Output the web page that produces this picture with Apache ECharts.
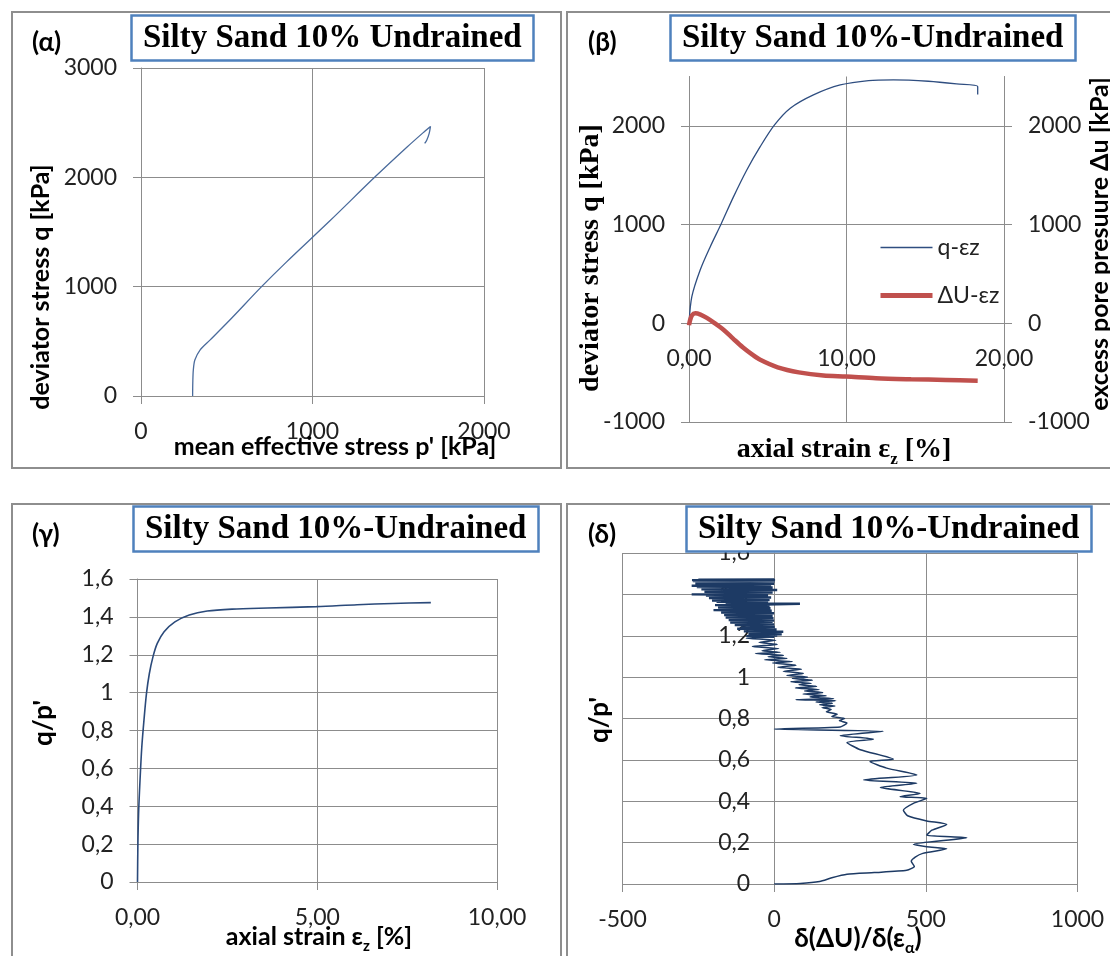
<!DOCTYPE html>
<html>
<head>
<meta charset="utf-8">
<script src="https://cdn.jsdelivr.net/npm/echarts@6/dist/echarts.min.js"></script>
<style>
html, body { margin: 0; padding: 0; background: #fff; }
#chart { width: 1110px; height: 956px; }
</style>
</head>
<body>
<div id="chart"></div>
<script>
// (α) deviator stress vs mean effective stress
var alphaP = [301, 302, 305, 314, 344, 402, 518, 703, 849, 1100, 1362, 1550, 1650, 1688, 1680, 1666, 1654]
var alphaQ = [0, 120, 237, 329, 420, 511, 695, 1000, 1227, 1600, 2000, 2275, 2415, 2466, 2400, 2340, 2310]

// (β) q and ΔU vs axial strain
var betaStrainQ = [0, 0.18, 0.71, 1.35, 2.04, 2.83, 3.67, 4.52, 5.43, 6.43, 7.9, 9.6, 11.4, 12.98, 15.2, 16.99, 18.33, 18.33]
var betaQ = [0, 270, 540, 776, 1006, 1283, 1553, 1789, 2009, 2178, 2313, 2414, 2459, 2466, 2452, 2425, 2398, 2317]
var betaStrainU = [0, 0.05, 0.18, 0.4, 0.73, 1.13, 1.6, 2.19, 2.8, 3.41, 4.0, 4.52, 5.63, 6.97, 8.53, 9.98, 11.87, 14.1, 16.3, 18.33]
var betaU = [-20, 20, 78, 101, 88, 55, 5, -65, -155, -243, -315, -370, -446, -497, -530, -540, -557, -567, -574, -581]

// (γ) stress ratio vs axial strain
var gammaStrain = [0, 0.01, 0.03, 0.07, 0.12, 0.18, 0.25, 0.33, 0.43, 0.55, 0.74, 1.04, 1.44, 1.94, 2.63, 3.62, 4.98, 6.11, 7.1, 8.16]
var gammaRatio = [0, 0.185, 0.361, 0.537, 0.714, 0.855, 0.996, 1.101, 1.189, 1.26, 1.322, 1.374, 1.41, 1.431, 1.441, 1.447, 1.454, 1.464, 1.471, 1.475]

// (δ) stress ratio vs pore pressure rate, lower part
var deltaRateLow = [
  0, 86, 150, 190, 240, 330, 437, 462, 452, 465, 490, 569, 503, 459, 635, 503, 520, 569, 503, 440,
  426, 459, 503, 415, 481, 350, 470, 295, 470, 371, 316, 393, 284, 240, 327, 218, 360, 0, 218, 240,
  215, 232, 190, 208, 172, 188, 158, 200, 150, 192, 138, 203, 72, 196, 118, 172, 95, 160, 100, 148,
  70, 140, 82, 122, 55, 126, 60, 110, 42, 96, 30, 90, 12, 72, -5, 60, -32, 42, -20, 30,
  -62, 20, -40, 15, -72, 10, -50, 5, -92, 0
]
var deltaRatioLow = [
  0, 0.003, 0.012, 0.03, 0.047, 0.055, 0.066, 0.085, 0.11, 0.13, 0.148, 0.17, 0.18, 0.192, 0.224, 0.236, 0.26, 0.288, 0.305, 0.33,
  0.357, 0.39, 0.414, 0.422, 0.438, 0.467, 0.487, 0.503, 0.527, 0.56, 0.592, 0.603, 0.649, 0.684, 0.70, 0.717, 0.738, 0.749, 0.759, 0.778,
  0.790, 0.800, 0.810, 0.820, 0.833, 0.843, 0.853, 0.860, 0.867, 0.874, 0.880, 0.886, 0.891, 0.896, 0.904, 0.910, 0.918, 0.925, 0.933, 0.940,
  0.948, 0.955, 0.963, 0.970, 0.978, 0.985, 0.993, 1.000, 1.008, 1.018, 1.028, 1.038, 1.048, 1.058, 1.068, 1.075, 1.084, 1.090, 1.098, 1.105,
  1.114, 1.120, 1.128, 1.138, 1.148, 1.158, 1.168, 1.178, 1.188, 1.195
]
// (δ) dense upper part near failure
var deltaRateHigh = [
  0, -92, 10, -70, 25, -85, 5, -60, 30, -100, 0, -80, 8, -122, -5, -95, 2, -110, -10, -130,
  0, -100, -15, -145, -5, -120, 0, -150, -20, -135, -2, -160, -25, -140, -5, -165, -20, -150, 0, -175,
  -30, -160, -8, -200, -35, -170, -12, -185, -40, -175, -15, -195, -30, 85, -160, -20, -190, -35, -205, -15,
  -180, -40, -215, -10, -190, -30, -225, -20, -272, -45, -200, -5, -230, -30, -205, 10, -240, -25, -215, -5,
  -255, -30, -272, -10, -235, 0, -260, -15, -245, 2, -268, 0, -271, 3, -250, 0
]
var deltaRatioHigh = [
  1.195, 1.198, 1.201, 1.204, 1.207, 1.210, 1.213, 1.216, 1.219, 1.222, 1.225, 1.228, 1.231, 1.234, 1.237, 1.240, 1.243, 1.246, 1.249, 1.252,
  1.255, 1.258, 1.261, 1.264, 1.267, 1.270, 1.273, 1.276, 1.279, 1.282, 1.285, 1.288, 1.291, 1.294, 1.297, 1.300, 1.303, 1.306, 1.309, 1.312,
  1.315, 1.318, 1.321, 1.324, 1.327, 1.330, 1.333, 1.336, 1.339, 1.342, 1.345, 1.348, 1.351, 1.355, 1.358, 1.361, 1.364, 1.367, 1.370, 1.373,
  1.376, 1.379, 1.382, 1.385, 1.388, 1.391, 1.394, 1.397, 1.400, 1.403, 1.406, 1.409, 1.412, 1.415, 1.418, 1.421, 1.424, 1.427, 1.430, 1.433,
  1.436, 1.439, 1.442, 1.445, 1.448, 1.451, 1.454, 1.457, 1.460, 1.463, 1.465, 1.467, 1.469, 1.470, 1.471, 1.472
]

var titleText1 = 'Silty Sand 10% Undrained'
var titleText2 = 'Silty Sand 10%-Undrained'

var gray = '#8c8c8c'
var labelFont = { fontFamily: 'Lato', fontSize: 23, color: '#222' }

function zip(xs, ys) {
  var out = []
  for (var i = 0; i < xs.length; i++) out.push([xs[i], ys[i]])
  return out
}

function plain(v) { return String(v) }
function comma2(v) { return v.toFixed(2).replace('.', ',') }
function comma1(v) { return String(Math.round(v * 10) / 10).replace('.', ',') }

function axis(o) {
  var a = {
    type: 'value',
    axisLine: { show: true, onZero: false, lineStyle: { color: gray, width: 1 } },
    axisTick: { show: true, length: 8, lineStyle: { color: gray } },
    splitLine: { show: true, lineStyle: { color: gray, width: 1 } },
    axisLabel: Object.assign({ margin: 24, formatter: plain }, labelFont)
  }
  for (var k in o) {
    if (k === 'axisLabel' || k === 'axisLine' || k === 'splitLine') a[k] = Object.assign({}, a[k], o[k])
    else a[k] = o[k]
  }
  return a
}

function boxTitle(text, left, top) {
  return {
    text: text, left: left, top: top, padding: [5, 12],
    borderColor: '#4f81bd', borderWidth: 2.5, backgroundColor: '#fff',
    textStyle: { fontFamily: 'Liberation Serif', fontWeight: 'bold', fontSize: 33, lineHeight: 36, color: '#000' }
  }
}

function panelLabel(text, left, top) {
  return {
    text: text, left: left, top: top, padding: 0,
    textStyle: { fontFamily: 'Lato', fontWeight: 'bold', fontSize: 26, lineHeight: 26, color: '#000' }
  }
}

function axisName(text, x, y, rotate, font, rich) {
  var st = { text: text, font: font, fill: '#000', align: 'center', verticalAlign: 'middle' }
  if (rich) st.rich = rich
  return { type: 'text', x: x, y: y, rotation: rotate ? Math.PI / 2 : 0, z: 10, style: st }
}

function subRich(family, size) {
  return {
    t: { fontFamily: family, fontWeight: 'bold', fontSize: size, lineHeight: size + 8, verticalAlign: 'middle' },
    s: { fontFamily: family, fontWeight: 'bold', fontSize: Math.round(size * 0.6), lineHeight: 12, verticalAlign: 'bottom' }
  }
}

function panelRect(x, y, w, h) {
  return { type: 'rect', shape: { x: x, y: y, width: w, height: h }, style: { fill: null, stroke: '#8e8e8e', lineWidth: 2 }, z: 0 }
}

var chart = echarts.init(document.getElementById('chart'))

var option = {
  animation: false,
  backgroundColor: '#fff',
  title: [
    boxTitle(titleText1, 131, 15),
    boxTitle(titleText2, 670, 15),
    boxTitle(titleText2, 133, 506),
    boxTitle(titleText2, 686, 506),
    panelLabel('(α)', 32, 30),
    panelLabel('(β)', 588, 30),
    panelLabel('(γ)', 32, 522),
    panelLabel('(δ)', 588, 522)
  ],
  legend: {
    orient: 'vertical', left: 873, top: 231, itemWidth: 52, itemHeight: 14, itemGap: 25,
    itemStyle: { opacity: 0 },
    textStyle: { fontFamily: 'Lato', fontSize: 23, lineHeight: 22, color: '#222' },
    data: [
      { name: 'q-εz', lineStyle: { width: 1.5 } },
      { name: 'ΔU-εz', lineStyle: { width: 5 } }
    ]
  },
  grid: [
    { left: 141, top: 68, width: 343, height: 328 },
    { left: 689, top: 76.5, width: 315, height: 345.5 },
    { left: 137.5, top: 579, width: 359.5, height: 303 },
    { left: 622.5, top: 553, width: 455, height: 331 }
  ],
  xAxis: [
    axis({ gridIndex: 0, min: 0, max: 2000, interval: 1000 }),
    // axis sits on the zero line of the stress axis
    axis({ gridIndex: 1, min: 0, max: 20, interval: 10, offset: -98.71, axisLabel: { formatter: comma2 } }),
    axis({ gridIndex: 2, min: 0, max: 10, interval: 5, axisLabel: { formatter: comma2 } }),
    axis({ gridIndex: 3, min: -500, max: 1000, interval: 500 })
  ],
  yAxis: [
    axis({ gridIndex: 0, min: 0, max: 3000, interval: 1000 }),
    axis({ gridIndex: 1, min: -1000, max: 2500, interval: 1000, position: 'left',
      axisLabel: { showMaxLabel: false }, splitLine: { showMaxLine: false } }),
    axis({ gridIndex: 1, min: -1000, max: 2500, interval: 1000, position: 'right',
      axisLabel: { showMaxLabel: false }, splitLine: { show: false } }),
    axis({ gridIndex: 2, min: 0, max: 1.6, interval: 0.2, axisLabel: { formatter: comma1 } }),
    // vertical axis crosses at x = 0
    axis({ gridIndex: 3, min: 0, max: 1.6, interval: 0.2, offset: -151.67, axisLabel: { formatter: comma1 } })
  ],
  series: [
    {
      name: 'alpha', type: 'line', xAxisIndex: 0, yAxisIndex: 0, symbol: 'none', smooth: 0.3,
      lineStyle: { color: '#4a6b9c', width: 1.3 }, data: zip(alphaP, alphaQ)
    },
    {
      name: 'q-εz', type: 'line', xAxisIndex: 1, yAxisIndex: 1, symbol: 'none', smooth: 0.3,
      itemStyle: { color: '#2f4e80' }, lineStyle: { color: '#2f4e80', width: 1.3 }, data: zip(betaStrainQ, betaQ)
    },
    {
      name: 'ΔU-εz', type: 'line', xAxisIndex: 1, yAxisIndex: 2, symbol: 'none', smooth: 0.3,
      itemStyle: { color: '#c0504d' }, lineStyle: { color: '#c0504d', width: 4.5 }, data: zip(betaStrainU, betaU)
    },
    {
      name: 'gamma', type: 'line', xAxisIndex: 2, yAxisIndex: 3, symbol: 'none', smooth: 0.3,
      lineStyle: { color: '#2b4a7a', width: 1.6 }, data: zip(gammaStrain, gammaRatio)
    },
    {
      name: 'delta', type: 'line', xAxisIndex: 3, yAxisIndex: 4, symbol: 'none', smooth: 0.2,
      lineStyle: { color: '#1d3a64', width: 1.5 }, data: zip(deltaRateLow, deltaRatioLow)
    },
    {
      name: 'delta-dense', type: 'line', xAxisIndex: 3, yAxisIndex: 4, symbol: 'none',
      lineStyle: { color: '#1d3a64', width: 2.4 }, data: zip(deltaRateHigh, deltaRatioHigh)
    }
  ],
  graphic: [
    panelRect(12, 12, 549, 456),
    panelRect(567, 12, 560, 456),
    panelRect(12, 504, 549, 470),
    panelRect(567, 504, 560, 470),
    axisName('deviator stress q [kPa]', 41, 287, true, 'bold 25px Lato'),
    axisName("mean effective stress p' [kPa]", 335, 447, false, 'bold 25px Lato'),
    axisName('deviator stress q [kPa]', 591, 258, true, 'bold 28px "Liberation Serif"'),
    axisName('excess pore presuure Δu [kPa]', 1100, 244, true, 'bold 25px Lato'),
    axisName('{t|axial strain ε}{s|z}{t| [%]}', 844, 450, false, 'bold 28px "Liberation Serif"', subRich('Liberation Serif', 28)),
    axisName("q/p'", 44, 723, true, 'bold 26px Lato'),
    axisName('{t|axial strain ε}{s|z}{t| [%]}', 319, 937, false, 'bold 25px Lato', subRich('Lato', 25)),
    axisName("q/p'", 600, 720, true, 'bold 26px Lato'),
    axisName('{t|δ(ΔU)/δ(ε}{s|α}{t|)}', 858, 939, false, 'bold 26px Lato', subRich('Lato', 26))
  ]
}

chart.setOption(option)
</script>
</body>
</html>
